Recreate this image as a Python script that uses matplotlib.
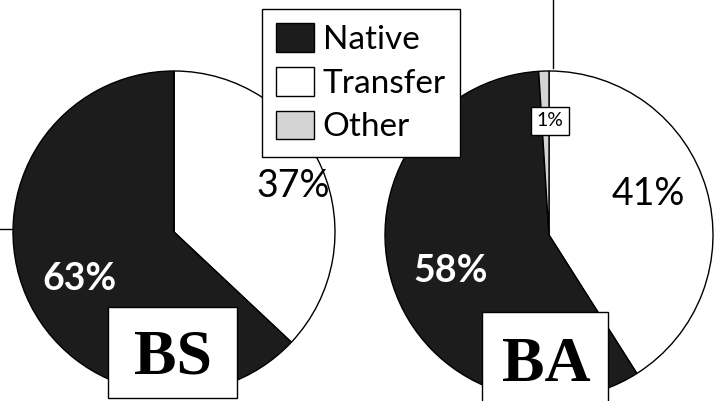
import matplotlib.pyplot as plt
from matplotlib.patches import Rectangle

# slice order: clockwise from 12 o'clock
LABELS = ["Transfer", "Native", "Other"]
BS_VALUES = [37, 63, 0]
BA_VALUES = [41, 58, 1]
COLORS = ["#ffffff", "#1c1c1c", "#d4d4d4"]
LEGEND_ORDER = ["Native", "Transfer", "Other"]

W, H = 715, 401
SANS = ["Lato", "DejaVu Sans"]
SERIF = ["Liberation Serif", "DejaVu Serif"]


def draw_pie(ax, values, center, radius):
    wedges, _ = ax.pie(values, colors=COLORS, startangle=90, counterclock=False,
                       center=center, radius=radius, frame=True,
                       wedgeprops=dict(edgecolor="black", linewidth=1.0))
    return wedges


def py(y):
    # pixel row (from top) -> data y
    return H - y


def main():
    fig = plt.figure(figsize=(W / 100, H / 100), dpi=100)
    ax = fig.add_axes([0, 0, 1, 1])

    wedges = draw_pie(ax, BS_VALUES, (174, py(232)), 161)
    draw_pie(ax, BA_VALUES, (549, py(235)), 164)

    ax.set_xlim(0, W)
    ax.set_ylim(0, H)
    ax.set_aspect("auto")
    ax.axis("off")

    # stray axis lines from the original figure
    ax.plot([0, 13], [py(229), py(229)], color="black", linewidth=1)
    ax.plot([553, 553], [py(0), py(68)], color="black", linewidth=1)

    # percentage labels
    ax.text(293, py(197), f"{BS_VALUES[0]}%", family=SANS, fontsize=27,
            color="black", ha="center", va="baseline")
    ax.text(79, py(290), f"{BS_VALUES[1]}%", family=SANS, fontsize=27,
            color="white", ha="center", va="baseline", weight="bold")
    ax.text(648, py(205), f"{BA_VALUES[0]}%", family=SANS, fontsize=27,
            color="black", ha="center", va="baseline")
    ax.text(451, py(282), f"{BA_VALUES[1]}%", family=SANS, fontsize=27,
            color="white", ha="center", va="baseline", weight="bold")
    ax.text(550, py(121), f"{BA_VALUES[2]}%", family=SANS, fontsize=14,
            color="black", ha="center", va="center",
            bbox=dict(boxstyle="square,pad=0.3", facecolor="white",
                      edgecolor="black", linewidth=1))

    # degree name boxes
    ax.add_patch(Rectangle((108, py(398)), 129, 91, facecolor="white",
                           edgecolor="black", linewidth=1, zorder=3))
    ax.text(173, py(374), "BS", family=SERIF, fontsize=46, weight="bold",
            ha="center", va="baseline", zorder=4)
    ax.add_patch(Rectangle((482, py(405)), 126, 93, facecolor="white",
                           edgecolor="black", linewidth=1, zorder=3))
    ax.text(546, py(381), "BA", family=SERIF, fontsize=46, weight="bold",
            ha="center", va="baseline", zorder=4)

    handles = [wedges[LABELS.index(name)] for name in LEGEND_ORDER]
    leg = ax.legend(handles, LEGEND_ORDER, loc="upper left",
                    bbox_to_anchor=(262, py(9)), bbox_transform=ax.transData,
                    borderaxespad=0, fancybox=False, framealpha=1,
                    edgecolor="black", prop=dict(family=SANS, size=24),
                    handlelength=1.15, handleheight=0.95, handletextpad=0.25,
                    labelspacing=0.36, borderpad=0.42)
    leg.get_frame().set_linewidth(1)
    leg.set_zorder(5)

    fig.savefig("out.png", dpi=100)
    plt.close(fig)


if __name__ == "__main__":
    main()
